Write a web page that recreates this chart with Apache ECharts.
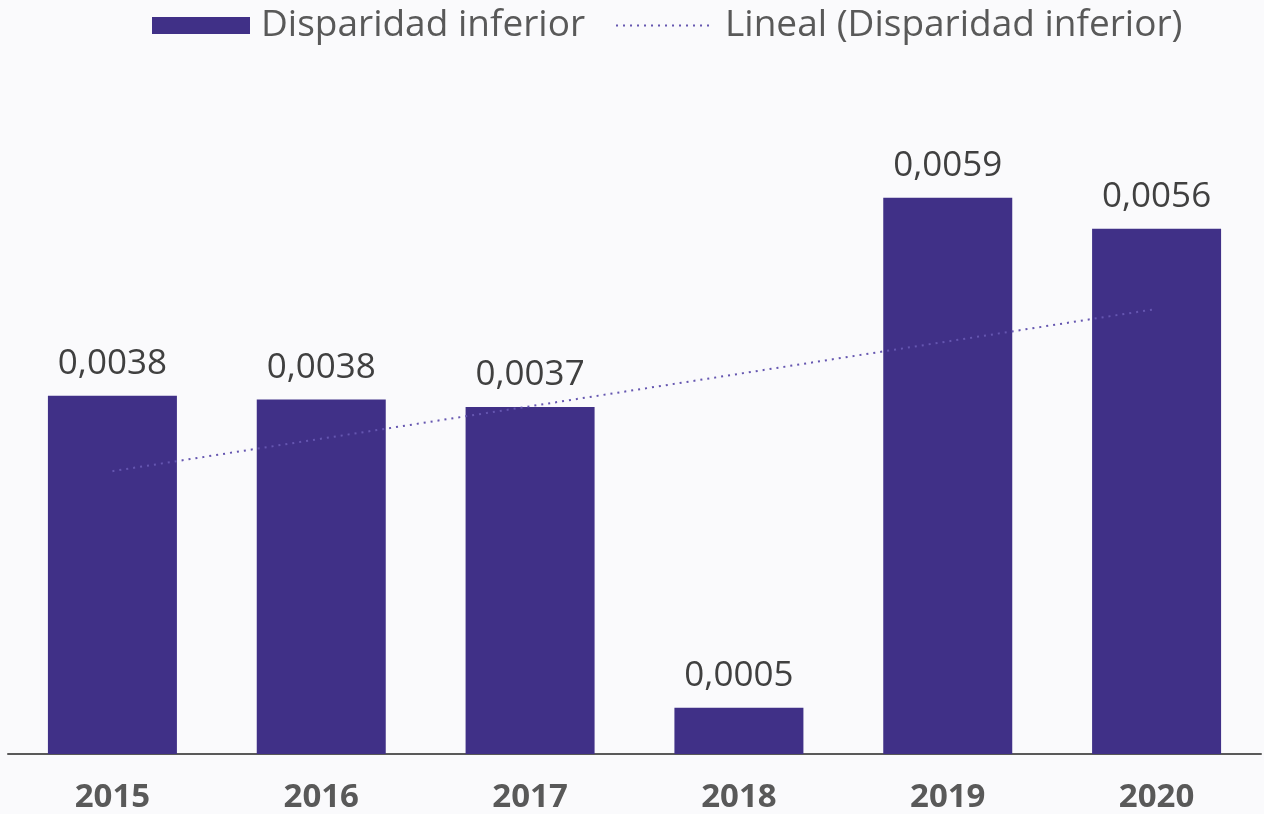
<!DOCTYPE html>
<html>
<head>
<meta charset="utf-8">
<script src="https://cdn.jsdelivr.net/npm/echarts@6/dist/echarts.min.js"></script>
<style>
html,body{margin:0;padding:0;background:#fafafc;}
#chart{width:1264px;height:814px;}
</style>
</head>
<body>
<div id="chart"></div>
<script>
const categories = ['2015', '2016', '2017', '2018', '2019', '2020'];
const barValues = [0.0038, 0.00376, 0.00368, 0.00049, 0.0059, 0.00557];
const trendValues = [0.00300, null, null, null, null, 0.00472];
const barName = 'Disparidad inferior';
const trendName = 'Lineal (Disparidad inferior)';

const FONT = '"Open Sans", sans-serif';
const chart = echarts.init(document.getElementById('chart'));
chart.setOption({
  backgroundColor: '#fafafc',
  animation: false,
  legend: {
    left: 147, top: 2,
    itemWidth: 98, itemHeight: 17, itemGap: 30,
    textStyle: { fontFamily: FONT, fontSize: 37, color: '#595959', padding: [0, 0, 0, 6] },
    data: [
      { name: barName, icon: 'rect' },
      { name: trendName, itemStyle: { opacity: 0 } }
    ]
  },
  grid: { left: 8, right: 3, top: 94, bottom: 60, containLabel: false },
  xAxis: {
    type: 'category',
    data: categories,
    axisLine: { lineStyle: { color: '#595959', width: 2 } },
    axisTick: { show: false },
    axisLabel: { fontFamily: FONT, fontSize: 33, fontWeight: 'bold', color: '#595959', margin: 27 }
  },
  yAxis: {
    type: 'value', min: 0, max: 0.007,
    show: false,
    splitLine: { show: false }
  },
  series: [
    {
      name: barName, type: 'bar', data: barValues, barWidth: 129,
      itemStyle: { color: '#403087' },
      label: {
        show: true, position: 'top', distance: 14,
        fontFamily: FONT, fontSize: 35, color: '#404040',
        formatter: p => p.value.toFixed(4).replace('.', ',')
      }
    },
    {
      name: trendName, type: 'line', data: trendValues, connectNulls: true,
      symbol: 'none', showSymbol: false, z: 5,
      lineStyle: { color: '#6556b0', width: 2, type: [2, 5] },
      itemStyle: { color: '#6556b0' }
    }
  ]
});
</script>
</body>
</html>
